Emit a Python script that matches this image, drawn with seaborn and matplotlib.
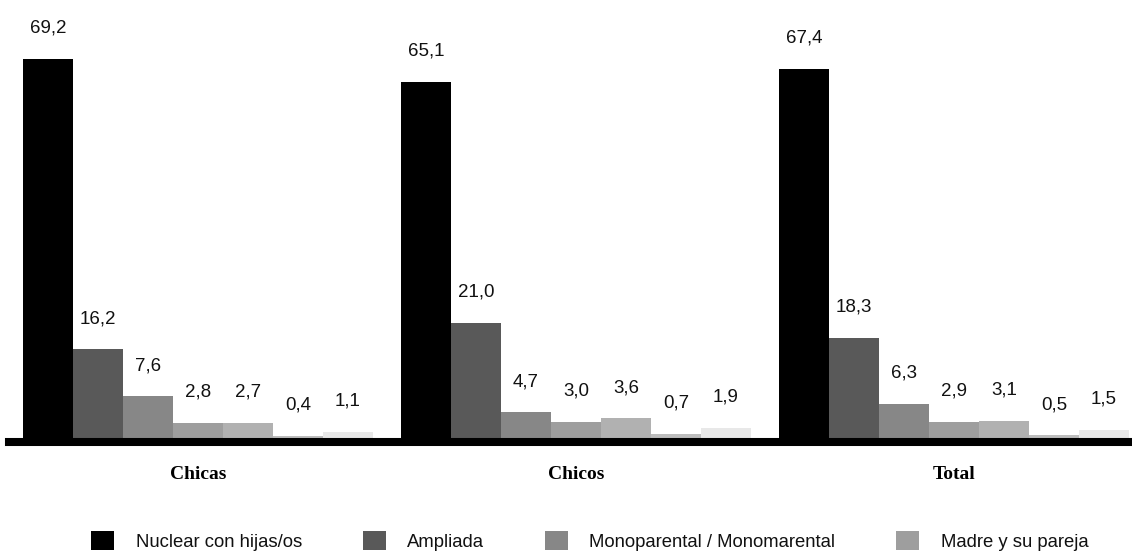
import seaborn as sns
import matplotlib.pyplot as plt
import pandas as pd

# data
grupos = ["Chicas", "Chicos", "Total"]
tipos = ["Nuclear con hijas/os", "Ampliada", "Monoparental / Monomarental",
         "Madre y su pareja", "Padre y su pareja", "Otra", "NS/NC"]
chicas = [69.2, 16.2, 7.6, 2.8, 2.7, 0.4, 1.1]
chicos = [65.1, 21.0, 4.7, 3.0, 3.6, 0.7, 1.9]
total = [67.4, 18.3, 6.3, 2.9, 3.1, 0.5, 1.5]
colores = ["#000000", "#595959", "#878787", "#9e9e9e", "#b1b1b1", "#bdbdbd", "#e8e8e8"]

rows = []
for g, vals in zip(grupos, [chicas, chicos, total]):
    for t, v in zip(tipos, vals):
        rows.append({"grupo": g, "tipo": t, "valor": v})
df = pd.DataFrame(rows)

sns.set_style("white")
sans = ["Liberation Sans", "DejaVu Sans"]
plt.rcParams["font.family"] = sans
plt.rcParams["text.color"] = "#111111"

W, H = 1132, 551
fig = plt.figure(figsize=(W / 100, H / 100), dpi=100)
ax = fig.add_axes([9 / W, (H - 442) / H, (W - 9) / W, 442 / H])

sns.barplot(data=df, x="grupo", y="valor", hue="tipo", palette=colores,
            width=0.926, saturation=1, linewidth=0, ax=ax, legend=True)

ax.set_xlim(-0.5, 2.471)
ax.set_ylim(-0.73, 80)

# value labels with decimal comma
for cont, t in zip(ax.containers, tipos):
    vals = df[df["tipo"] == t]["valor"].tolist()
    ax.bar_label(cont, labels=[f"{v:.1f}".replace(".", ",") for v in vals],
                 padding=16, fontsize=13.5, family=sans, color="#111111")

for s in ["top", "right", "left"]:
    ax.spines[s].set_visible(False)
ax.spines["bottom"].set_linewidth(5.8)
ax.spines["bottom"].set_color("black")
ax.spines["bottom"].set_zorder(5)

ax.set_yticks([])
ax.set_xlabel("")
ax.set_ylabel("")
ax.set_xticks([-0.5, 0.5, 1.5], minor=True)
ax.tick_params(axis="x", which="major", length=0, pad=17, labelcolor="black")
ax.tick_params(axis="x", which="minor", length=7.2, width=0.8, color="black")
for lab in ax.get_xticklabels():
    lab.set_fontfamily("Liberation Serif")
    lab.set_fontweight("bold")
    lab.set_fontsize(14)

handles, labels = ax.get_legend_handles_labels()
ax.get_legend().remove()
fig.legend(handles[:4], labels[:4], loc="center", bbox_to_anchor=(0.521, 10 / H),
           ncol=4, frameon=False, fontsize=13.3, handlelength=1.25, handleheight=1.15,
           handletextpad=1.15, columnspacing=3.3, borderpad=0)

fig.savefig("out.png", dpi=100)
